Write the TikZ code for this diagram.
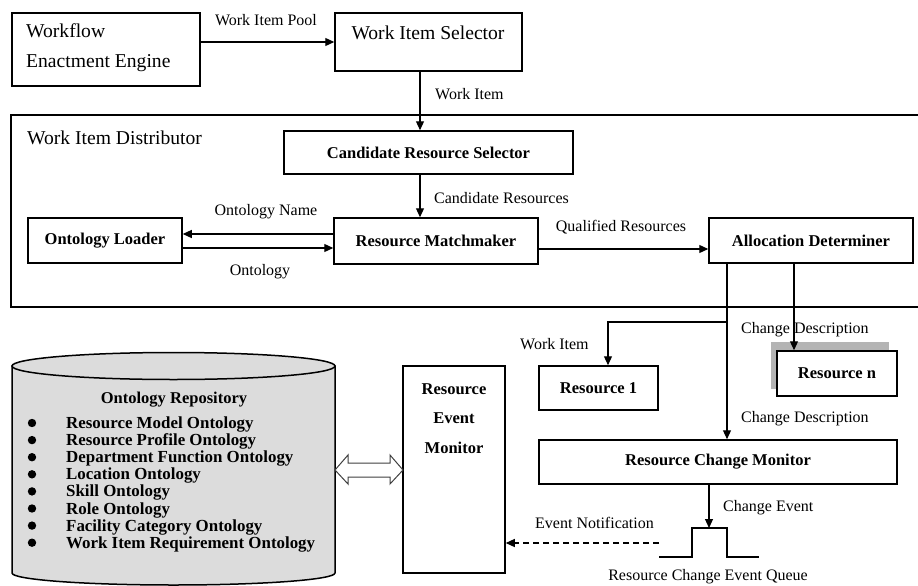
\documentclass[tikz,border=0pt]{standalone}
\usepackage{fontspec}
\setmainfont{Liberation Serif}
\usetikzlibrary{arrows.meta}
\newcommand\bfboxfont{\fontsize{16.5}{20}\selectfont\bfseries}
\newcommand\itemfont{\fontsize{16.9}{20}\selectfont\bfseries}
\newcommand\lblfont{\fontsize{16}{19}\selectfont}
\newcommand\bigfont{\fontsize{19.6}{30}\selectfont}
\definecolor{cylgray}{RGB}{220,220,220}
\definecolor{shadowgray}{RGB}{180,180,180}
\tikzset{
  box/.style={draw, line width=1.5pt, fill=white, inner sep=0pt, font=\bfboxfont},
  lbl/.style={font=\lblfont, inner sep=0pt},
  bigtxt/.style={font=\bigfont, inner sep=0pt},
  arr/.style={line width=1.2pt, -{Triangle[length=9pt,width=8pt]}},
  ln/.style={line width=1.2pt},
  itemtxt/.style={font=\itemfont, inner sep=0pt, anchor=base west},
}
\begin{document}
\begin{tikzpicture}[x=1pt,y=-1pt]
\useasboundingbox (0,0) rectangle (918,586);
\fill[white] (0,0) rectangle (918,586);

% helper coordinates
\coordinate (xa) at (420,0);
\coordinate (xb) at (608,0);
\coordinate (xv) at (727,0);
\coordinate (xn) at (794,0);
\coordinate (yname) at (0,234);
\coordinate (yont) at (0,248);
\coordinate (yqual) at (0,249);
\coordinate (br) at (727,322);

% top boxes
\node[box, minimum width=188pt, minimum height=73pt] (wf) at (106,49.5) {};
\node[bigtxt, anchor=west, align=left] (wft) at (26,48) {Workflow\\Enactment Engine};
\node[box, minimum width=187pt, minimum height=58pt] (wis) at (428.5,42) {};
\node[bigtxt] (wist) at (428,33) {Work Item Selector};

% distributor frame
\draw[line width=1.5pt] (925,115) -- (11,115) -- (11,307) -- (925,307);
\node[bigtxt, anchor=west] (dist) at (27,138) {Work Item Distributor};

\node[box, minimum width=289pt, minimum height=43pt] (crs) at (428.5,152.5) {Candidate Resource Selector};
\node[box, minimum width=154pt, minimum height=45pt] (ol) at (105,240.5) {Ontology Loader};
\node[box, minimum width=204pt, minimum height=46pt] (rm) at (436,241) {Resource Matchmaker};
\node[box, minimum width=204pt, minimum height=45pt] (ad) at (811,240.5) {Allocation Determiner};

% resources
\node[box, minimum width=119pt, minimum height=44pt] (r1) at (598.5,388) {Resource 1};
\fill[shadowgray] (771,342) rectangle (889,389);
\node[box, minimum width=120pt, minimum height=45pt] (rn) at (837,373.5) {Resource n};
\node[box, minimum width=358pt, minimum height=44pt] (rcm) at (718,462) {Resource Change Monitor};
\node[box, minimum width=102pt, minimum height=207pt] (rem) at (454,469.5) {};
\node[font=\fontsize{16.5}{29.5}\selectfont\bfseries, inner sep=0pt, align=center] (remt) at (454,418.5) {Resource\\Event\\Monitor};

% cylinder
\path[fill=cylgray, draw=black, line width=1.5pt] (12,366) -- (12,573)
  arc[start angle=180, end angle=360, x radius=161.5pt, y radius=12pt] -- (335,366) -- cycle;
\draw[fill=cylgray, line width=1.5pt] (173.5,366) ellipse [x radius=161.5pt, y radius=13.5pt];
\node[font=\bfboxfont, inner sep=0pt] (repo) at (174,400) {Ontology Repository};
\foreach \t [count=\i from 0] in {Resource Model Ontology, Resource Profile Ontology,
  Department Function Ontology, Location Ontology, Skill Ontology, Role Ontology,
  Facility Category Ontology, Work Item Requirement Ontology}{
  \node[itemtxt] (it\i) at (66,{428.5+17.1*\i}) {\t};
  \fill (32,{423+17.1*\i}) circle (4.2pt);
}

% double arrow between repository and event monitor
\draw[line width=1pt, draw=black!75, fill=white]
  (335,470) -- (348,455) -- (348,463) -- (390,463) -- (390,455) -- (403,470)
  -- (390,484) -- (390,477) -- (348,477) -- (348,484) -- cycle;

% event queue
\coordinate (qtop) at (709,528);
\coordinate (qleft) at (659,543);
\draw[line width=1.3pt] (659,557) -- (692,557) -- (692,528) -- (727,528) -- (727,557) -- (759,557);

% connectors
\draw[arr] (wis.west -| wf.east) -- (wis.west);
\draw[arr] (wis.south -| xa) -- (crs.north -| xa);
\draw[arr] (crs.south -| xa) -- (rm.north -| xa);
\draw[arr] (rm.west |- yname) -- (ol.east |- yname);
\draw[arr] (ol.east |- yont) -- (rm.west |- yont);
\draw[arr] (rm.east |- yqual) -- (ad.west |- yqual);
\draw[arr] (ad.south -| xv) -- (rcm.north -| xv);
\draw[arr] (br) -| (r1.north -| xb);
\draw[arr] (ad.south -| xn) -- (rn.north -| xn);
\draw[arr] (rcm.south -| qtop) -- (qtop);
\draw[line width=1.2pt, dash pattern=on 6pt off 4pt, -{Triangle[length=9pt,width=8pt]}] (qleft) -- (rem.east |- qleft);

% labels
\node[lbl] (l1) at (266,20) {Work Item Pool};
\node[lbl, anchor=west] (l2) at (435,94) {Work Item};
\node[lbl, anchor=west] (l3) at (434,198) {Candidate Resources};
\node[lbl] (l4) at (266,212) {Ontology Name};
\node[lbl] (l5) at (260,272) {Ontology};
\node[lbl] (l6) at (621,227) {Qualified Resources};
\node[lbl, anchor=west] (l7) at (741,330) {Change Description};
\node[lbl, anchor=west] (l8) at (520,344) {Work Item};
\node[lbl, anchor=west] (l9) at (741,419) {Change Description};
\node[lbl, anchor=west] (l10) at (723,508) {Change Event};
\node[lbl, anchor=west] (l11) at (535,523) {Event Notification};
\node[lbl] (l12) at (708,577) {Resource Change Event Queue};
\end{tikzpicture}
\end{document}
